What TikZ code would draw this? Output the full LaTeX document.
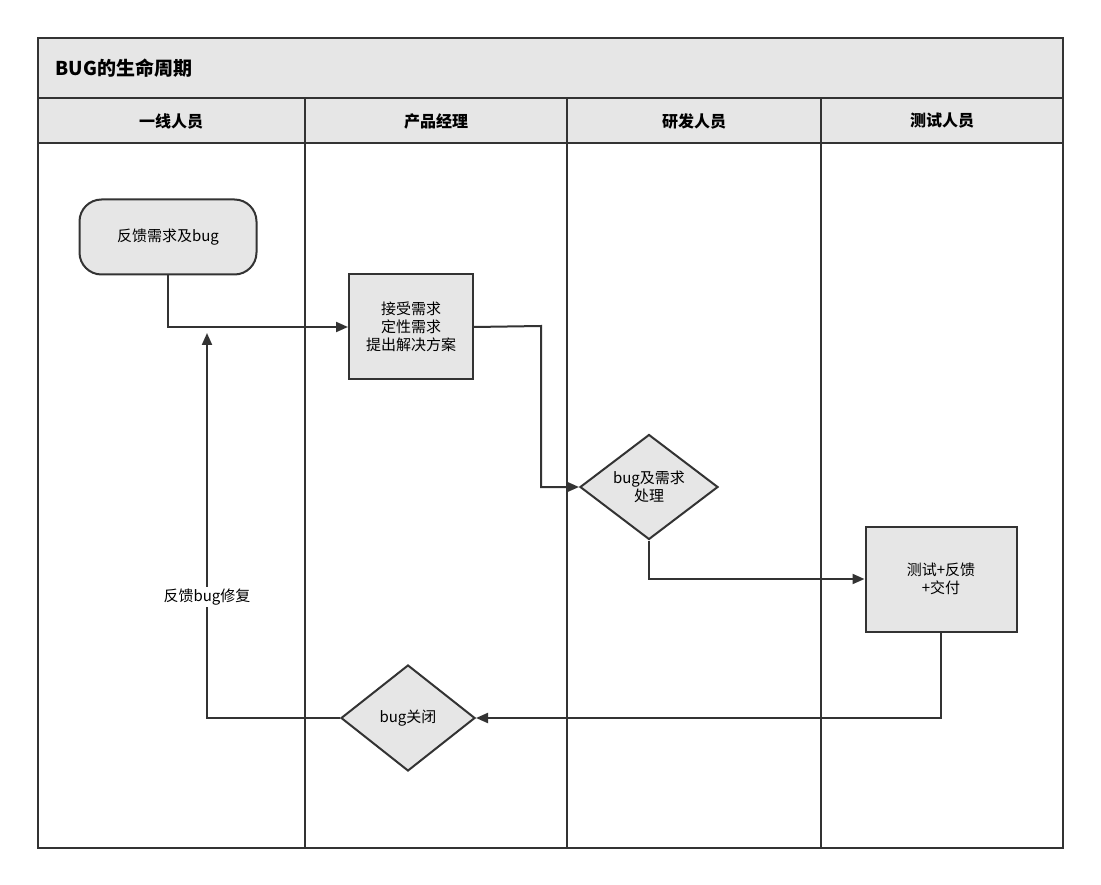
\documentclass[tikz,border=0pt]{standalone}
\usepackage{fontspec}
\setmainfont{Noto Sans CJK SC}
\usetikzlibrary{shapes.geometric,arrows.meta}
\definecolor{fillg}{HTML}{E6E6E6}
\definecolor{linec}{HTML}{333333}
\begin{document}
\begin{tikzpicture}[x=1pt,y=-1pt,
  every node/.style={font=\fontsize{15}{18}\selectfont},
  box/.style={draw=linec,line width=2pt,fill=fillg,minimum width=124pt,minimum height=105pt,align=center,inner sep=0pt},
  dia/.style={diamond,draw=linec,line width=2pt,fill=fillg,aspect=1.3,inner sep=0pt,align=center},
  conn/.style={draw=linec,line width=2pt,-{Triangle[length=12pt,width=10pt]}},
  hdr/.style={font=\fontsize{16}{19}\selectfont\bfseries}]
\useasboundingbox (0,0) rectangle (1101,885);
\fill[white] (0,0) rectangle (1101,885);
\draw[linec,line width=2pt,fill=fillg] (38,38) rectangle (1063,143);
\draw[linec,line width=2pt] (38,98) -- (1063,98);
\draw[linec,line width=2pt] (38,143) rectangle (1063,848);
\foreach \x in {305,567,821} \draw[linec,line width=2pt] (\x,98) -- (\x,848);
\node[anchor=west,font=\fontsize{19}{22}\selectfont\bfseries] (title) at (52,68) {BUG的生命周期};
\node[hdr] (h1) at (171,121) {一线人员};
\node[hdr] (h2) at (436,121) {产品经理};
\node[hdr] (h3) at (694,121) {研发人员};
\node[hdr] (h4) at (942,121) {测试人员};
\node[draw=linec,line width=2pt,fill=fillg,rounded corners=22pt,minimum width=177pt,minimum height=75pt] (a) at (168,237) {反馈需求及bug};
\node[box] (b) at (411,327) {接受需求\\定性需求\\提出解决方案};
\node[dia,minimum width=138pt,minimum height=105pt] (c) at (649,487) {bug及需求\\处理};
\node[box,minimum width=151pt] (d) at (941,579) {测试+反馈\\+交付};
\node[dia,minimum width=134pt,minimum height=106pt] (e) at (408,718) {bug关闭};
\coordinate (t) at (207,333);
\draw[conn] (a.south) |- (b.west);
\draw[conn] (b.east) -- (541,326) |- (c.west);
\draw[conn] (c.south) |- (d.west);
\draw[conn] (d.south) |- (e.east);
\draw[conn] (e.west) -| (t);
\node[fill=white,inner sep=2pt] (lbl) at (207,597) {反馈bug修复};
\end{tikzpicture}
\end{document}
